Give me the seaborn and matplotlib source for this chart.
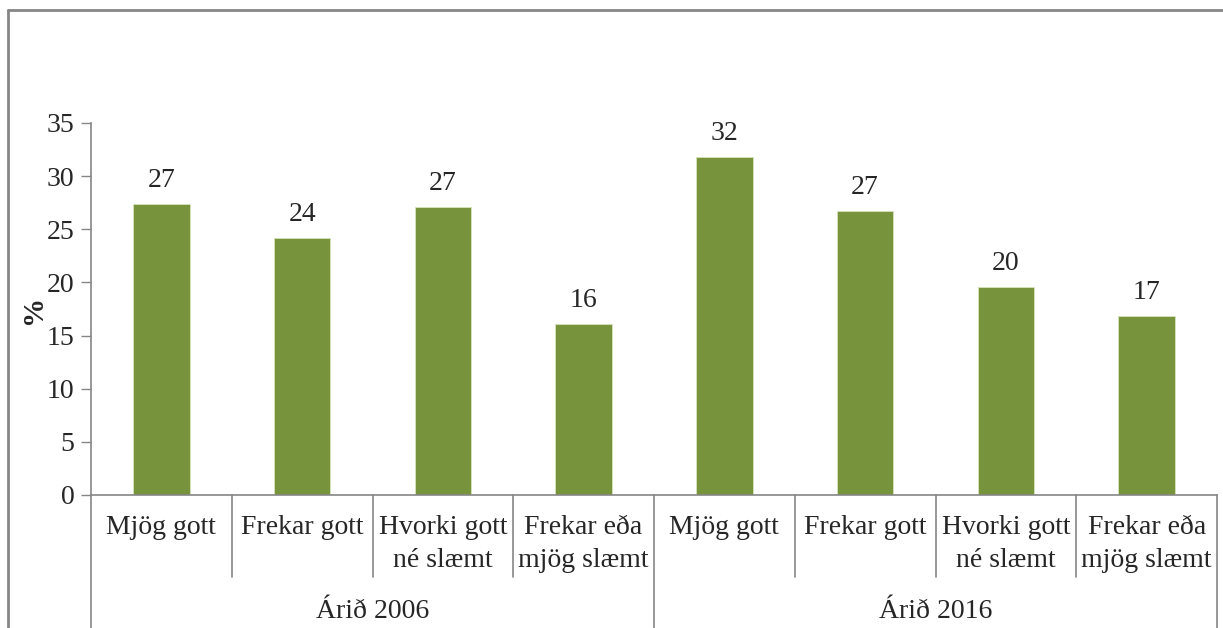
import matplotlib
matplotlib.use("Agg")
import matplotlib.pyplot as plt
import seaborn as sns
import pandas as pd
from matplotlib.lines import Line2D

years = ["Árið 2006", "Árið 2016"]
categories = ["Mjög gott", "Frekar gott", "Hvorki gott\nné slæmt", "Frekar eða\nmjög slæmt"]
values_2006 = [27.4, 24.2, 27.1, 16.1]
values_2016 = [31.8, 26.7, 19.6, 16.8]
y_ticks = [0, 5, 10, 15, 20, 25, 30, 35]

rows = []
for yr, vals in zip(years, [values_2006, values_2016]):
    for c, v in zip(categories, vals):
        rows.append({"key": f"{yr}|{c}", "year": yr, "cat": c, "value": v})
df = pd.DataFrame(rows)

sns.set_theme(style="white")
plt.rcParams["font.family"] = ["Liberation Serif", "DejaVu Serif"]

W, H = 1223, 628
fig = plt.figure(figsize=(W / 100, H / 100), dpi=100)
x0, x1, ytop, ybot = 91, 1217, 123, 495
ax = fig.add_axes([x0 / W, 1 - ybot / H, (x1 - x0) / W, (ybot - ytop) / H])

FS = 20
green = "#77933C"
sns.barplot(data=df, x="key", y="value", color=green, width=0.4, ax=ax,
            saturation=1, edgecolor="#d6e3bc", linewidth=0.6)
ax.set_xlim(-0.5, len(df) - 0.5)
ax.set_ylim(0, 35)
ax.set_yticks(y_ticks)
ax.tick_params(axis="y", labelsize=FS, length=7, width=1, color="#868686", direction="out", pad=5, left=True)
ax.set_xticks([])
ax.set_xlabel("")
ax.set_ylabel("%", fontsize=21, fontweight="bold", labelpad=0)
for s in ["top", "right"]:
    ax.spines[s].set_visible(False)
for s in ["left", "bottom"]:
    ax.spines[s].set_color("#868686")
    ax.spines[s].set_linewidth(1.2)

for cont in ax.containers:
    ax.bar_label(cont, labels=[f"{v:.0f}" for v in cont.datavalues], padding=8, fontsize=FS)

axh = ybot - ytop
inner_end = -(577 - ybot) / axh
outer_end = -(H - ybot) / axh
trans = ax.get_xaxis_transform()
n = len(df)
for i in range(n + 1):
    xb = i - 0.5
    end = outer_end if i % 4 == 0 else inner_end
    ax.plot([xb, xb], [0, end], transform=trans, color="#868686", lw=1.2, clip_on=False)

label_top = -(515 - ybot) / axh
for i, c in enumerate(df["cat"]):
    ax.text(i, label_top, c, transform=trans, ha="center", va="top", fontsize=FS, linespacing=1.4)
group_y = -(611 - ybot) / axh
for g, yr in enumerate(years):
    ax.text(g * 4 + 1.5, group_y, yr, transform=trans, ha="center", va="center", fontsize=FS)

# outer chart frame
fig.add_artist(Line2D([8 / W, 8 / W], [0, 1 - 10 / H], transform=fig.transFigure, color="#868686", lw=2))
fig.add_artist(Line2D([8 / W, 1], [1 - 10 / H, 1 - 10 / H], transform=fig.transFigure, color="#868686", lw=2))

fig.savefig("out.png", dpi=100)
